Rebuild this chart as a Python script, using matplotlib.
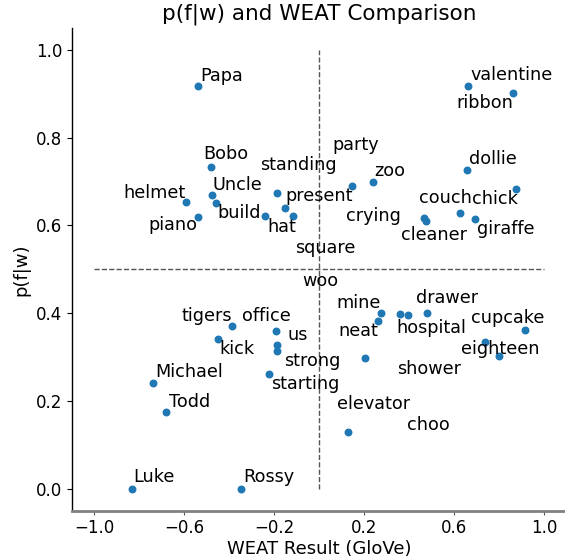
import matplotlib
matplotlib.use("Agg")
import matplotlib.pyplot as plt

words = ["Papa", "Bobo", "Uncle", "build", "helmet", "piano", "hat", "standing", "present", "square",
         "valentine", "ribbon", "dollie", "chick", "party", "zoo", "crying", "cleaner", "couch", "giraffe",
         "tigers", "office", "us", "strong", "starting", "kick", "Michael", "Todd", "Luke", "Rossy",
         "mine", "neat", "hospital", "woo", "drawer", "cupcake", "choo", "eighteen", "shower", "elevator"]
weat = [-0.538, -0.482, -0.475, -0.460, -0.590, -0.540, -0.241, -0.188, -0.150, -0.117,
        0.660, 0.862, 0.658, 0.873, 0.145, 0.238, 0.466, 0.475, 0.624, 0.692,
        -0.388, -0.194, -0.188, -0.188, -0.225, -0.448, -0.741, -0.679, -0.834, -0.346,
        0.275, 0.260, 0.360, 0.396, 0.478, 0.916, 0.735, 0.798, 0.203, 0.130]
pfw = [0.917, 0.733, 0.669, 0.652, 0.653, 0.619, 0.621, 0.675, 0.639, 0.621,
       0.918, 0.901, 0.726, 0.683, 0.689, 0.700, 0.616, 0.611, 0.629, 0.614,
       0.371, 0.359, 0.327, 0.313, 0.262, 0.341, 0.242, 0.174, 0.0, 0.0,
       0.401, 0.383, 0.399, 0.396, 0.400, 0.362, 0.335, 0.303, 0.299, 0.129]
# label anchor positions (after label de-overlapping), data coordinates
label_x = [-0.528, -0.514, -0.475, -0.451, -0.869, -0.758, -0.232, -0.265, -0.150, -0.1065,
           0.673, 0.608, 0.666, 0.678, 0.058, 0.244, 0.118, 0.363, 0.445, 0.703,
           -0.614, -0.343, -0.139, -0.158, -0.214, -0.442, -0.729, -0.669, -0.827, -0.336,
           0.0755, 0.083, 0.345, -0.077, 0.432, 0.673, 0.389, 0.629, 0.345, 0.0785]
label_y = [0.929, 0.752, 0.680, 0.618, 0.663, 0.589, 0.586, 0.726, 0.656, 0.538,
           0.931, 0.867, 0.739, 0.650, 0.771, 0.712, 0.611, 0.567, 0.651, 0.581,
           0.383, 0.383, 0.339, 0.280, 0.227, 0.307, 0.255, 0.187, 0.015, 0.015,
           0.413, 0.349, 0.356, 0.461, 0.4225, 0.377, 0.135, 0.308, 0.261, 0.181]
xticks = [-1.0, -0.6, -0.2, 0.2, 0.6, 1.0]
yticks = [0.0, 0.2, 0.4, 0.6, 0.8, 1.0]

fig = plt.figure(figsize=(5.65, 5.58), dpi=100)
ax = fig.add_axes([0.127, 0.0848, 0.876, 0.865])

ax.plot([0, 0], [0, 1], linestyle="--", color="#555555", linewidth=1.0)
ax.plot([-1, 1], [0.5, 0.5], linestyle="--", color="#555555", linewidth=1.0)
ax.scatter(weat, pfw, s=22, color="#1f77b4", zorder=3)
for w, lx, ly in zip(words, label_x, label_y):
    ax.text(lx, ly, w, fontsize=12.7, ha="left", va="baseline", color="black")

ax.set_xlim(-1.1, 1.1)
ax.set_ylim(-0.05, 1.05)
ax.set_xticks(xticks)
ax.set_yticks(yticks)
ax.set_xticklabels([f"{t:.1f}".replace("-", "\u2212") for t in xticks])
ax.set_yticklabels([f"{t:.1f}" for t in yticks])
ax.tick_params(axis="both", labelsize=12)
ax.tick_params(axis="x", length=3, pad=3, color="#555555")
ax.spines["top"].set_visible(False)
ax.spines["right"].set_visible(False)
ax.spines["bottom"].set_color("#808080")
ax.spines["bottom"].set_linewidth(2)
ax.spines["left"].set_linewidth(1)
ax.set_title("p(f|w) and WEAT Comparison", fontsize=15.5)
ax.set_xlabel("WEAT Result (GloVe)", fontsize=13, labelpad=2)
ax.set_ylabel("p(f|w)", fontsize=13)

fig.savefig("out.png", dpi=100)
